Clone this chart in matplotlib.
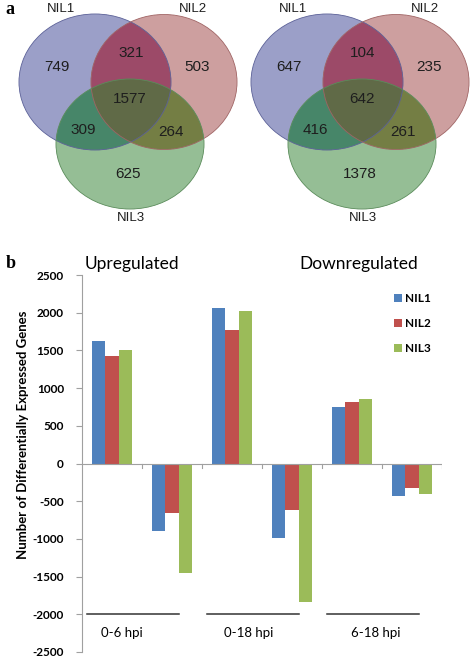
import matplotlib

matplotlib.use("Agg")
import matplotlib.pyplot as plt
import numpy as np
from matplotlib.colors import to_rgb
from matplotlib.patches import Ellipse

# --- data -------------------------------------------------------------
venn_sets = ["NIL1", "NIL2", "NIL3"]
# region order: only1, 1&2, only2, all, 1&3, 2&3, only3
venn_up = [749, 321, 503, 1577, 309, 264, 625]
venn_down = [647, 104, 235, 642, 416, 261, 1378]

bar_groups = ["0-6 hpi", "0-18 hpi", "6-18 hpi"]
nil1 = [1630, -900, 2060, -990, 750, -430]
nil2 = [1420, -650, 1770, -620, 820, -320]
nil3 = [1510, -1450, 2020, -1840, 850, -400]
yticks = [2500, 2000, 1500, 1000, 500, 0, -500, -1000, -1500, -2000, -2500]

W, H = 472, 658
fig = plt.figure(figsize=(W / 100, H / 100), dpi=100)

# overlay axes in pixel coordinates for the venn panel and panel letters
ov = fig.add_axes([0, 0, 1, 1])
ov.axis("off")

venn_font = "Liberation Sans"
# ellipse geometry (centre, width, height) in pixels, relative to venn left edge
shapes = [((95, 82), 152, 136), ((164, 82), 146, 135), ((130, 144), 148, 130)]
offsets = [0, 232]
edge = ["#5c6198", "#a06464", "#5a8c5a"]
# colour of each region keyed by membership bits (NIL1, NIL2, NIL3)
region_rgb = {
    (1, 0, 0): "#9ba0c8",
    (0, 1, 0): "#cda0a0",
    (0, 0, 1): "#96be96",
    (1, 1, 0): "#9c4a68",
    (1, 0, 1): "#478769",
    (0, 1, 1): "#747e44",
    (1, 1, 1): "#606a48",
}

ss = 3
ys, xs = np.mgrid[0:230 * ss, 0:W * ss]
xs = (xs + 0.5) / ss
ys = (ys + 0.5) / ss
img = np.ones(xs.shape + (3,))
for x0 in offsets:
    inside = []
    for (cx, cy), w, h in shapes:
        inside.append(((xs - x0 - cx) / (w / 2)) ** 2 + ((ys - cy) / (h / 2)) ** 2 <= 1)
    for key, col in region_rgb.items():
        m = np.ones(xs.shape, dtype=bool)
        for flag, ins in zip(key, inside):
            m &= ins if flag else ~ins
        img[m] = to_rgb(col)
ov.imshow(img, extent=(0, W, 230, 0), interpolation="antialiased", aspect="auto", zorder=0)


def draw_venn(x0, counts):
    for i, ((cx, cy), w, h) in enumerate(shapes):
        ov.add_patch(Ellipse((x0 + cx, cy), w, h, facecolor="none",
                             edgecolor=edge[i], lw=0.6, zorder=2))
    spots = [(57, 67), (131, 53), (197, 67), (130, 99), (83, 130), (171, 132), (128, 174)]
    for (px, py), n in zip(spots, counts):
        ov.text(x0 + px, py, str(n), ha="center", va="center", fontsize=11,
                family=venn_font, color="#1e1e1e", zorder=3)
    for (px, py), name in zip([(61, 9), (193, 9), (131, 218)], venn_sets):
        ov.text(x0 + px, py, name, ha="center", va="center", fontsize=9.5,
                family=venn_font, color="#1e1e1e", zorder=3)


for x0, counts in zip(offsets, [venn_up, venn_down]):
    draw_venn(x0, counts)

ov.text(10, 10, "a", fontsize=13, fontweight="bold", family="Liberation Serif",
        ha="center", va="center")
ov.text(11, 264, "b", fontsize=13, fontweight="bold", family="Liberation Serif",
        ha="center", va="center")
ov.set_xlim(0, W)
ov.set_ylim(H, 0)

# --- bar chart --------------------------------------------------------
ax = fig.add_axes([82 / W, (H - 652) / H, 360 / W, 377 / H])
ax.patch.set_alpha(0)
x = np.arange(len(nil1))
bw = 0.222
colors = ["#4f81bd", "#c0504d", "#9bbb59"]
for k, (vals, lab) in enumerate(zip([nil1, nil2, nil3], venn_sets)):
    ax.bar(x + (k - 1) * bw, vals, bw, color=colors[k], label=lab, zorder=2)

ax.set_xlim(-0.5, len(nil1) - 0.5)
ax.set_ylim(-2500, 2500)
ax.set_yticks(yticks)
ax.set_yticklabels([str(v) for v in yticks], fontsize=8.5, fontweight="bold", family="Lato")
for s in ["top", "right", "bottom"]:
    ax.spines[s].set_visible(False)
ax.spines["left"].set_color("#a0a0a0")
ax.tick_params(axis="y", length=4, color="#a0a0a0", pad=9)
ax.set_xticks([])

# zero line with category boundary ticks
ax.axhline(0, color="#a0a0a0", lw=0.8, zorder=3)
for b in np.arange(0.5, len(nil1), 1.0):
    ax.plot([b, b], [0, -60], color="#a0a0a0", lw=0.8, zorder=3)

ax.set_ylabel("Number of Differentially Expressed Genes", fontsize=9.5,
              fontweight="bold", family="Lato")
ax.yaxis.set_label_coords(-0.148, 0.575)

# group underlines and labels
label_x = [0.17, 2.28, 4.4]
for g, name in enumerate(bar_groups):
    start = 2 * g - 0.42
    ax.plot([start, start + 1.53], [-2000, -2000], color="#333333", lw=1.1,
            clip_on=False)
    ax.text(label_x[g], -2250, name, ha="center", va="center", fontsize=9.5, family="Lato")

ax.text(-0.45, 2650, "Upregulated", fontsize=12.5, family="Lato", ha="left", va="center")
ax.text(3.13, 2650, "Downregulated", fontsize=12.5, family="Lato", ha="left", va="center")

leg = ax.legend(loc="upper right", bbox_to_anchor=(1.0, 0.98), frameon=False,
                prop={"family": "Lato", "weight": "bold", "size": 8.5},
                handlelength=0.7, handleheight=0.7, handletextpad=0.3,
                labelspacing=1.2)

fig.savefig("out.png", dpi=100)
